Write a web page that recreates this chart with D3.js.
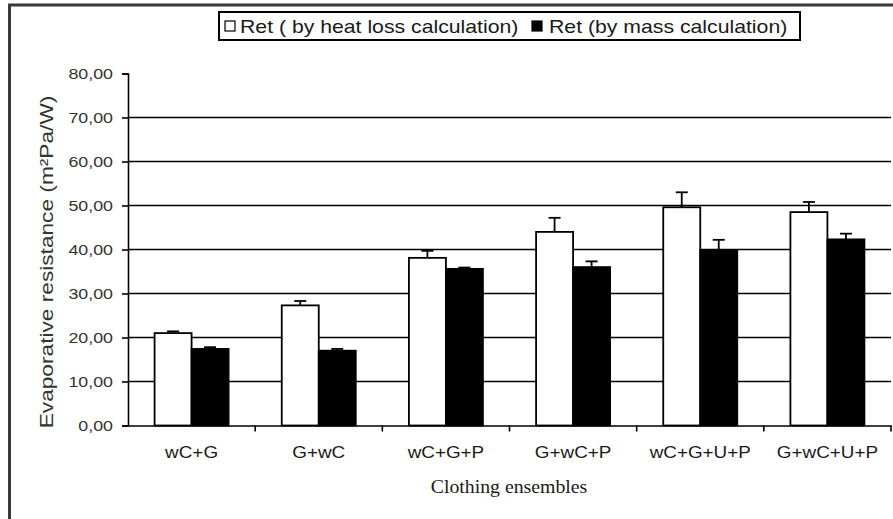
<!DOCTYPE html>
<html>
<head>
<meta charset="utf-8">
<script src="https://cdn.jsdelivr.net/npm/d3@7"></script>
<style>
  html, body { margin: 0; padding: 0; background: #fff; }
  svg { display: block; }
  text { font-family: "Liberation Sans", Arial, sans-serif; fill: #1a1a1a; }
</style>
</head>
<body>
<svg id="chart" width="893" height="519"></svg>
<script>
const categories = ["wC+G", "G+wC", "wC+G+P", "G+wC+P", "wC+G+U+P", "G+wC+U+P"];
const heatLoss = [21.0, 27.3, 38.1, 44.0, 49.6, 48.5];
const heatLossErr = [0.4, 1.0, 1.6, 3.2, 3.4, 2.3];
const massCalc = [17.4, 17.0, 35.6, 36.0, 39.9, 42.3];
const massCalcErr = [0.4, 0.4, 0.3, 1.3, 2.3, 1.3];
const yTicks = [0, 10, 20, 30, 40, 50, 60, 70, 80];
const gridValues = [10, 20, 30, 40, 50, 60, 70];
const seriesNames = ["Ret ( by heat loss calculation)", "Ret (by mass calculation)"];
const xTitle = "Clothing ensembles";
const yTitle = "Evaporative resistance (m²Pa/W)";

const svg = d3.select("#chart");
const SX = 1.15;

// outer frame (partially cropped)
svg.append("path")
  .attr("d", "M9.5,519 L9.5,5 L893,5")
  .attr("fill", "none").attr("stroke", "#3a3a3a").attr("stroke-width", 3);

const y = d3.scaleLinear().domain([0, 80]).range([425.5, 73.5]);
const x = d3.scaleBand().domain(categories).range([128, 891]).padding(0);
const barW = 37;

// gridlines
svg.append("g").selectAll("line").data(gridValues).join("line")
  .attr("x1", 128).attr("x2", 891)
  .attr("y1", d => y(d)).attr("y2", d => y(d))
  .attr("stroke", "#000").attr("stroke-width", 1.6);

// y axis
const yAxis = d3.axisLeft(y).tickValues(yTicks).tickSize(6).tickFormat(() => "");
const yg = svg.append("g").attr("transform", "translate(128,0)").call(yAxis);
yg.select(".domain").attr("stroke", "#000").attr("stroke-width", 1.6);
yg.selectAll(".tick line").attr("stroke", "#000").attr("stroke-width", 1.6);
svg.append("g").selectAll("text").data(yTicks).join("text")
  .attr("transform", d => `translate(113,${y(d) + 5.5}) scale(${SX},1)`)
  .attr("text-anchor", "end")
  .style("font-size", "15.5px")
  .style("fill", "#333")
  .text(d => d3.format(".2f")(d).replace(".", ","));

// x axis
const xAxis = d3.axisBottom(x).tickSize(0).tickFormat(() => "");
const xg = svg.append("g").attr("transform", `translate(0,${y(0)})`).call(xAxis);
xg.select(".domain").attr("stroke", "#000").attr("stroke-width", 1.6);
xg.selectAll(".tick").remove();
const boundaries = categories.map(c => x(c) + x.bandwidth());
svg.append("g").selectAll("line").data(boundaries).join("line")
  .attr("x1", d => d).attr("x2", d => d)
  .attr("y1", y(0)).attr("y2", y(0) + 6)
  .attr("stroke", "#000").attr("stroke-width", 1.6);

svg.append("g").selectAll("text").data(categories).join("text")
  .attr("transform", d => `translate(${x(d) + x.bandwidth() / 2},458) scale(1.18,1)`)
  .attr("text-anchor", "middle")
  .style("font-size", "16px")
  .text(d => d);

// bars
const cx = c => x(c) + x.bandwidth() / 2;
const bars = svg.append("g");
bars.selectAll("rect.heat").data(categories).join("rect").attr("class", "heat")
  .attr("x", c => cx(c) - barW).attr("width", barW)
  .attr("y", (c, i) => y(heatLoss[i])).attr("height", (c, i) => y(0) - y(heatLoss[i]))
  .attr("fill", "#fff").attr("stroke", "#000").attr("stroke-width", 1.8);
bars.selectAll("rect.mass").data(categories).join("rect").attr("class", "mass")
  .attr("x", c => cx(c)).attr("width", barW)
  .attr("y", (c, i) => y(massCalc[i])).attr("height", (c, i) => y(0) - y(massCalc[i]))
  .attr("fill", "#000").attr("stroke", "#000").attr("stroke-width", 1.8);

// error bars
function errBars(vals, errs, offset) {
  const g = svg.append("g").attr("stroke", "#000").attr("stroke-width", 1.8);
  categories.forEach((c, i) => {
    const xc = cx(c) + offset;
    g.append("line").attr("x1", xc).attr("x2", xc)
      .attr("y1", y(vals[i])).attr("y2", y(vals[i] + errs[i]));
    g.append("line").attr("x1", xc - 6).attr("x2", xc + 6)
      .attr("y1", y(vals[i] + errs[i])).attr("y2", y(vals[i] + errs[i]));
  });
}
errBars(heatLoss, heatLossErr, -barW / 2);
errBars(massCalc, massCalcErr, barW / 2);

// axis titles
svg.append("text")
  .attr("transform", `translate(509,493) scale(1.1,1)`)
  .attr("text-anchor", "middle")
  .style("font-family", "'Liberation Serif', 'Times New Roman', serif")
  .style("font-size", "18px")
  .text(xTitle);
svg.append("text")
  .attr("transform", `translate(53,262) rotate(-90) scale(1.26,1)`)
  .attr("text-anchor", "middle")
  .style("font-size", "18px")
  .style("fill", "#333")
  .text(yTitle);

// legend
const lg = svg.append("g");
lg.append("rect").attr("x", 219).attr("y", 12).attr("width", 581).attr("height", 28)
  .attr("fill", "#fff").attr("stroke", "#000").attr("stroke-width", 2);
const legendItems = [
  { name: seriesNames[0], fill: "#fff", sx: 225, tx: 240 },
  { name: seriesNames[1], fill: "#000", sx: 532, tx: 549 }
];
legendItems.forEach(it => {
  lg.append("rect").attr("x", it.sx).attr("y", 21).attr("width", 10).attr("height", 10)
    .attr("fill", it.fill).attr("stroke", "#000").attr("stroke-width", 1.2);
  lg.append("text")
    .attr("transform", `translate(${it.tx},32.5) scale(1.18,1)`)
    .style("font-size", "18px")
    .text(it.name);
});
</script>
</body>
</html>
